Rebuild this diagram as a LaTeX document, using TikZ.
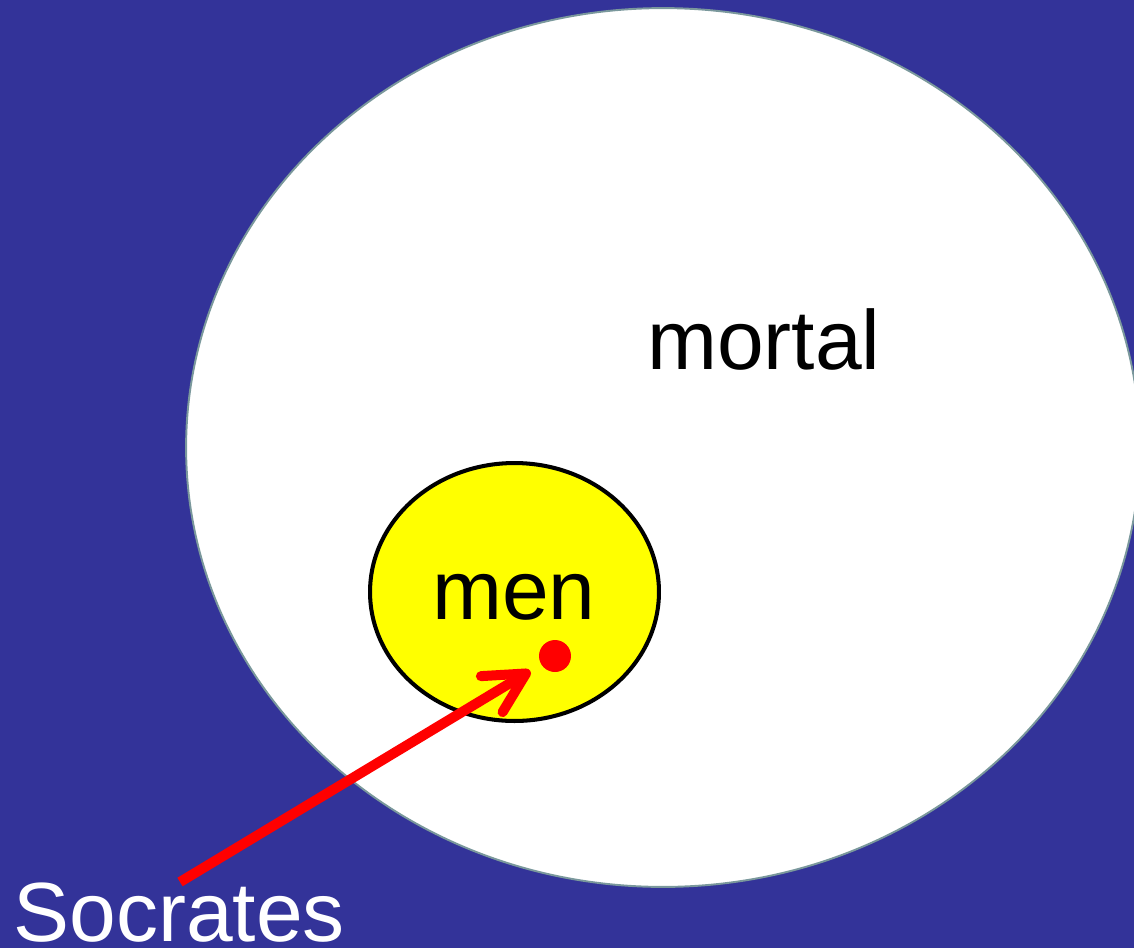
\documentclass[tikz,border=0pt]{standalone}
\usepackage{fontspec}
\setmainfont{Liberation Sans}
\usetikzlibrary{arrows.meta,shapes.geometric}
\definecolor{slideblue}{RGB}{51,51,153}
\definecolor{rimgray}{RGB}{122,152,156}
\definecolor{setyellow}{RGB}{255,255,0}
\definecolor{pointred}{RGB}{255,0,0}
\tikzset{
  bigtext/.style={inner sep=0pt, font=\fontsize{47.8}{57}\selectfont},
  setshape/.style={ellipse, inner sep=0pt},
  pointer/.style={pointred, line width=5.7pt,
    -{Straight Barb[length=8mm, width=8.4mm, round]}}
}

\begin{document}
\begin{tikzpicture}[x=0.02cm, y=-0.02cm]
  % Frame: the slide, 1134 x 948.
  \useasboundingbox (0,0) rectangle (1134,948);
  \clip (0,0) rectangle (1134,948);
  \fill[slideblue] (0,0) rectangle (1134,948);
  % Outer set: mortal things.
  \node[setshape, fill=white, draw=rimgray, line width=1.1pt,
    minimum width=19.08cm, minimum height=17.58cm] (mortalset) at (663,447.5) {};
  \node[bigtext, anchor=base] (mortal) at (764,369) {mortal};
  % Inner set: men.
  \node[setshape, fill=setyellow, draw=black, line width=2.3pt,
    minimum width=5.78cm, minimum height=5.16cm] (menset) at (514.5,592) {};
  \node[bigtext, anchor=base] (men) at (514,619) {men};
  % The element and its label.
  \node[circle, fill=pointred, inner sep=0pt, minimum size=0.64cm] (dot) at (555,656) {};
  \node[bigtext, white, anchor=base west] (socrates) at (13,941) {Socrates};
  \coordinate (arrowstart) at (180,882);
  \draw[pointer, shorten >=0.25cm] (arrowstart) -- (dot);
\end{tikzpicture}
\end{document}
